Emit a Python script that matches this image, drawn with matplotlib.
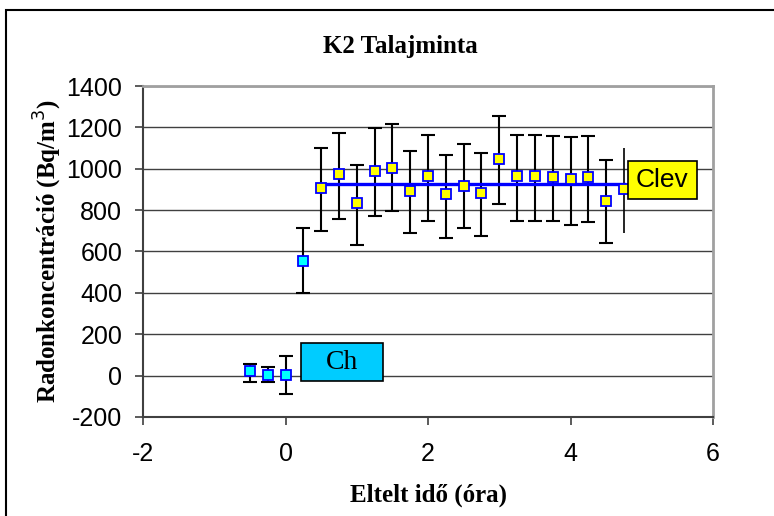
import matplotlib
matplotlib.use("Agg")
import matplotlib.pyplot as plt
import numpy as np
from matplotlib.patches import Rectangle

# háttér (Ch) mérések
t_ch = [-0.5, -0.25, 0.0, 0.25]
c_ch = [21, 5, 5, 556]
lo_ch = [-32, -32, -88, 399]
hi_ch = [58, 42, 96, 716]

# feltöltődés utáni (Clev) mérések
t_lev = [0.5, 0.75, 1.0, 1.25, 1.5, 1.75, 2.0, 2.25, 2.5, 2.75, 3.0,
         3.25, 3.5, 3.75, 4.0, 4.25, 4.5, 4.75]
c_lev = [908, 974, 834, 990, 1005, 892, 964, 876, 916, 884, 1047,
         964, 964, 958, 952, 958, 843, 900]
lo_lev = [698, 756, 633, 774, 798, 688, 748, 664, 716, 675, 830,
          748, 748, 748, 729, 741, 641, 690]
hi_lev = [1099, 1175, 1016, 1196, 1215, 1087, 1165, 1068, 1118, 1076, 1255,
          1165, 1165, 1157, 1152, 1157, 1042, 1099]

clev_mean = 927
xticks = [-2, 0, 2, 4, 6]
yticks = [-200, 0, 200, 400, 600, 800, 1000, 1200, 1400]

serif = "Liberation Serif"
sans = "Liberation Sans"

fig = plt.figure(figsize=(7.74, 5.16), dpi=100)
ax = fig.add_axes([0.1848, 0.1919, 0.9212 - 0.1848, 0.8333 - 0.1919])

ax.set_xlim(-2, 6)
ax.set_ylim(-200, 1400)
ax.set_xticks(xticks)
ax.set_yticks(yticks)
ax.set_xticklabels([str(v) for v in xticks], fontsize=18, family=sans)
ax.set_yticklabels([str(v) for v in yticks], fontsize=18, family=sans)
ax.tick_params(direction="out", length=6, width=1.2, color="#404040")
ax.tick_params(axis="y", pad=9)
ax.tick_params(axis="x", pad=12)
ax.yaxis.grid(True, color="#404040", lw=1.0)
ax.set_axisbelow(True)

for s in ["left", "bottom"]:
    ax.spines[s].set_color("#404040")
    ax.spines[s].set_linewidth(1.5)
for s in ["top", "right"]:
    ax.spines[s].set_color("#a0a0a0")
    ax.spines[s].set_linewidth(2)

def err(c, lo, hi):
    c = np.array(c)
    return [c - np.array(lo), np.array(hi) - c]

# error bars
ax.errorbar(t_ch, c_ch, yerr=err(c_ch, lo_ch, hi_ch), fmt="none",
            ecolor="black", elinewidth=1.5, capsize=5, capthick=1.5, zorder=3)
ax.errorbar(t_lev[:-1], c_lev[:-1], yerr=err(c_lev[:-1], lo_lev[:-1], hi_lev[:-1]),
            fmt="none", ecolor="black", elinewidth=1.5, capsize=5, capthick=1.5, zorder=3)
ax.errorbar(t_lev[-1:], c_lev[-1:], yerr=err(c_lev[-1:], lo_lev[-1:], hi_lev[-1:]),
            fmt="none", ecolor="black", elinewidth=1.2, capsize=0, zorder=3)

# mean level line
ax.plot([t_lev[0], t_lev[-1]], [clev_mean, clev_mean], color="#0000ff", lw=2.4, zorder=4)

# markers
ax.plot(t_ch, c_ch, "s", ms=6.5, mfc="#00ffff", mec="#0000ff", mew=1.3, ls="none", zorder=5)
ax.plot(t_lev, c_lev, "s", ms=6.5, mfc="#ffff00", mec="#0000ff", mew=1.3, ls="none", zorder=5)

# label boxes
ax.add_patch(Rectangle((4.80, 855), 0.97, 184, facecolor="#ffff00", edgecolor="black",
                       lw=1.2, zorder=6, clip_on=False))
ax.text(5.285, 947, "Clev", ha="center", va="center", fontsize=19, family=sans, zorder=7)
ax.add_patch(Rectangle((0.224, -24), 1.146, 183, facecolor="#00ccff", edgecolor="black",
                       lw=1.2, zorder=6))
ax.text(0.797, 64, "Ch", ha="center", va="center", fontsize=20, family=serif, zorder=7)

fig.text(400 / 774, 1 - 46 / 516, "K2 Talajminta", ha="center", va="center",
         fontsize=18, family=serif, fontweight="bold")
ax.set_xlabel("Eltelt idő (óra)", fontsize=18, family=serif, fontweight="bold", labelpad=13)
ax.set_ylabel("Radonkoncentráció (Bq/m$^3$)", fontsize=18, family=serif,
              fontweight="bold", labelpad=2)

# outer frame
fig.patches.append(Rectangle((6 / 774, -0.1), 1.2, 1 - 10 / 516 + 0.1, transform=fig.transFigure,
                             fill=False, edgecolor="black", lw=1.5))

fig.savefig("out.png", dpi=100)
